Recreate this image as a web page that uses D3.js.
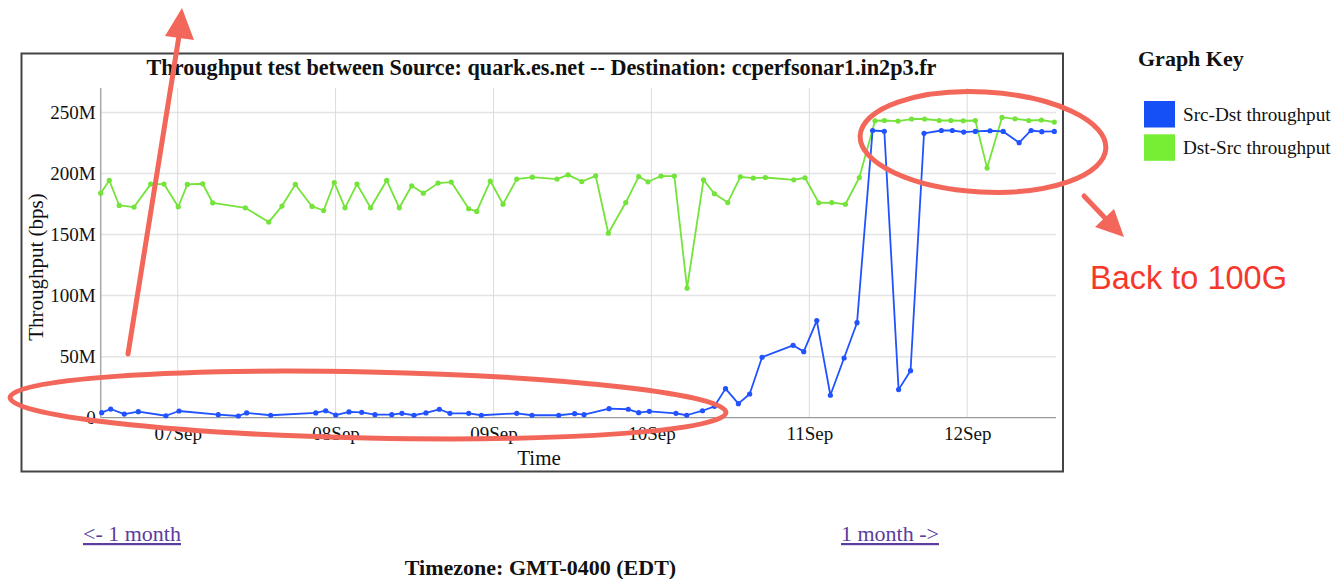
<!DOCTYPE html>
<html>
<head>
<meta charset="utf-8">
<script src="https://cdn.jsdelivr.net/npm/d3@7"></script>
<style>
  html, body { margin: 0; padding: 0; background: #fff; }
  svg { display: block; }
</style>
</head>
<body>
<svg id="chart" width="1341" height="579"></svg>
<script>
// ---------- DATA ----------
const chartTitle = "Throughput test between Source: quark.es.net -- Destination: ccperfsonar1.in2p3.fr";
const seriesNames = ["Src-Dst throughput", "Dst-Src throughput"];

// Src-Dst (blue) — times (month-day hour:min) and throughput in Mbps
const srcDstTimes = [
  "09-06 12:27","09-06 13:49","09-06 15:53","09-06 18:01","09-06 22:13","09-07 00:12","09-07 06:10","09-07 09:13",
  "09-07 10:29","09-07 14:08","09-07 20:59","09-07 22:30","09-08 00:01","09-08 02:02","09-08 03:58","09-08 05:59",
  "09-08 08:32","09-08 10:05","09-08 11:55","09-08 13:44","09-08 15:46","09-08 17:23","09-08 20:14","09-08 22:09",
  "09-09 03:32","09-09 05:51","09-09 09:55","09-09 12:20","09-09 13:46","09-09 17:34","09-09 20:29","09-09 22:04",
  "09-09 23:41","09-10 03:44","09-10 05:22","09-10 07:46","09-10 09:35","09-10 11:16","09-10 13:13","09-10 14:56",
  "09-10 16:49","09-10 21:32","09-10 23:09","09-11 01:08","09-11 03:12","09-11 05:17","09-11 07:15","09-11 09:37",
  "09-11 11:24","09-11 13:34","09-11 15:23","09-11 17:26","09-11 20:04","09-11 21:44","09-11 23:28","09-12 01:14",
  "09-12 03:28","09-12 05:28","09-12 07:53","09-12 09:42","09-12 11:20","09-12 13:14"
];
const srcDstValues = [
  4.1,7.1,3.0,4.9,1.6,5.5,2.5,1.4,
  3.9,2.0,3.9,5.7,2.2,4.7,4.4,2.5,
  2.5,3.6,2.0,3.9,6.9,3.6,3.6,2.0,
  3.6,2.0,2.0,3.3,2.5,7.4,6.9,4.1,
  5.2,3.6,2.0,5.7,9.3,23.8,11.5,19.4,
  49.5,59.3,54.1,79.5,18.4,48.9,77.8,235.2,
  234.6,23.0,38.5,232.9,235.2,235.2,233.9,234.4,
  235.0,234.4,225.2,235.2,234.2,234.4
];

// Dst-Src (green)
const dstSrcTimes = [
  "09-06 12:18","09-06 13:36","09-06 15:07","09-06 17:22","09-06 19:54","09-06 21:55","09-07 00:05","09-07 01:28",
  "09-07 03:48","09-07 05:19","09-07 10:17","09-07 13:50","09-07 15:51","09-07 17:53","09-07 20:25","09-07 22:11",
  "09-07 23:48","09-08 01:26","09-08 03:15","09-08 05:19","09-08 07:46","09-08 09:41","09-08 11:34","09-08 13:20",
  "09-08 15:34","09-08 17:35","09-08 20:14","09-08 21:27","09-08 23:31","09-09 01:27","09-09 03:32","09-09 05:54",
  "09-09 09:39","09-09 11:20","09-09 13:25","09-09 15:32","09-09 17:27","09-09 20:06","09-09 22:04","09-09 23:29",
  "09-10 01:28","09-10 03:29","09-10 05:25","09-10 07:55","09-10 09:35","09-10 11:36","09-10 13:31","09-10 15:29",
  "09-10 17:19","09-10 21:38","09-10 23:21","09-11 01:26","09-11 03:25","09-11 05:29","09-11 07:36","09-11 09:59",
  "09-11 11:24","09-11 13:29","09-11 15:32","09-11 17:31","09-11 19:45","09-11 21:31","09-11 23:24","09-12 01:14",
  "09-12 03:01","09-12 05:17","09-12 07:16","09-12 09:21","09-12 11:16","09-12 13:14"
];
const dstSrcValues = [
  183.9,194.3,173.8,172.5,191.3,191.3,172.7,191.0,
  191.6,176.0,171.9,160.2,173.3,191.0,173.0,169.7,
  192.6,171.9,191.3,171.9,194.3,171.9,189.9,183.9,
  192.1,193.0,171.1,168.9,193.8,174.9,195.4,197.0,
  195.4,198.9,193.4,198.1,151.1,176.2,197.5,193.2,
  197.9,197.9,106.1,194.8,183.4,176.2,197.3,196.2,
  196.7,194.8,196.5,176.0,176.2,174.8,196.7,243.2,
  243.4,242.9,244.6,244.6,243.4,243.4,243.2,243.4,
  204.4,245.9,244.8,243.4,243.8,242.1
];

const yTickValues = [0, 50, 100, 150, 200, 250];
const yTickLabels = ["0", "50M", "100M", "150M", "200M", "250M"];
const xTickDays = ["09-07 00:00","09-08 00:00","09-09 00:00","09-10 00:00","09-11 00:00","09-12 00:00"];
const yMax = 270;

// ---------- LAYOUT ----------
const parse = d3.utcParse("%m-%d %H:%M");
const L = 100.7, R = 1054.3, GR = 1056, T = 88, B = 417.7;
const serif = "'Liberation Serif', 'Times New Roman', Times, serif";
const sans = "'Liberation Sans', Arial, Helvetica, sans-serif";
const blue = "#2152ff", green = "#74e33a";
const annot = "#f2675a";

const svg = d3.select("#chart");
svg.append("rect").attr("width", 1341).attr("height", 579).attr("fill", "#fff");

const blueData = srcDstTimes.map((t, i) => ({ t: parse(t), v: srcDstValues[i] }));
const greenData = dstSrcTimes.map((t, i) => ({ t: parse(t), v: dstSrcValues[i] }));
const allT = blueData.concat(greenData).map(d => d.t);

const x = d3.scaleUtc().domain(d3.extent(allT)).range([L, R]);
const y = d3.scaleLinear().domain([0, yMax]).range([B, T]);

// outer frame
svg.append("rect").attr("x", 21.5).attr("y", 53.5).attr("width", 1041.5).attr("height", 418)
  .attr("fill", "none").attr("stroke", "#444").attr("stroke-width", 2);

// title
svg.append("text").attr("x", 541.5).attr("y", 75).attr("text-anchor", "middle")
  .attr("font-family", serif).attr("font-weight", "bold").attr("font-size", 22.2)
  .attr("fill", "#111").text(chartTitle);

// horizontal grid
svg.append("g").selectAll("line").data(yTickValues.filter(v => v > 0)).join("line")
  .attr("x1", L).attr("x2", GR).attr("y1", d => y(d)).attr("y2", d => y(d))
  .attr("stroke", "#e4e4e4").attr("stroke-width", 1.5);

// vertical grid
const xTicks = xTickDays.map(parse);
svg.append("g").selectAll("line").data(xTicks).join("line")
  .attr("x1", d => x(d)).attr("x2", d => x(d)).attr("y1", T).attr("y2", B)
  .attr("stroke", "#dcdcdc").attr("stroke-width", 1);

// axes
const yAxis = d3.axisLeft(y).tickValues(yTickValues)
  .tickFormat((d, i) => yTickLabels[i]).tickSize(0).tickPadding(5);
const gy = svg.append("g").attr("transform", `translate(${L},0)`).call(yAxis);
gy.select(".domain").remove();
gy.selectAll("text").attr("font-family", serif).attr("font-size", 19).attr("fill", "#111");

const xAxis = d3.axisBottom(x).tickValues(xTicks).tickFormat(d3.utcFormat("%d%b")).tickSize(0).tickPadding(9);
const gx = svg.append("g").attr("transform", `translate(0,${B})`).call(xAxis);
gx.select(".domain").remove();
gx.selectAll("text").attr("font-family", serif).attr("font-size", 19).attr("fill", "#111");

svg.append("line").attr("x1", L).attr("x2", L).attr("y1", T).attr("y2", B)
  .attr("stroke", "#a8a8a8").attr("stroke-width", 1.5);
svg.append("line").attr("x1", L).attr("x2", GR).attr("y1", B).attr("y2", B)
  .attr("stroke", "#9a9a9a").attr("stroke-width", 1.2);

// axis titles
svg.append("text").attr("x", 539).attr("y", 465).attr("text-anchor", "middle")
  .attr("font-family", serif).attr("font-size", 21).attr("fill", "#111").text("Time");
svg.append("text").attr("transform", "translate(43,267) rotate(-90)").attr("text-anchor", "middle")
  .attr("font-family", serif).attr("font-size", 21).attr("fill", "#111").text("Throughput (bps)");

// series
const line = d3.line().x(d => x(d.t)).y(d => y(d.v));
function drawSeries(data, color) {
  const g = svg.append("g");
  g.append("path").datum(data).attr("d", line).attr("fill", "none")
    .attr("stroke", color).attr("stroke-width", 1.8).attr("stroke-linejoin", "round");
  g.selectAll("circle").data(data).join("circle")
    .attr("cx", d => x(d.t)).attr("cy", d => y(d.v)).attr("r", 2.6).attr("fill", color);
}
drawSeries(greenData, green);
drawSeries(blueData, blue);

// legend
svg.append("text").attr("x", 1138).attr("y", 66).attr("font-family", serif).attr("font-weight", "bold")
  .attr("font-size", 22).attr("fill", "#111").text("Graph Key");
const legendColors = [blue, green];
const lg = svg.append("g").selectAll("g").data(seriesNames).join("g")
  .attr("transform", (d, i) => `translate(1144,${101 + i * 33.3})`);
lg.append("rect").attr("width", 31).attr("height", 26.5).attr("fill", (d, i) => i === 0 ? "#1450f5" : "#77ee33");
lg.append("text").attr("x", 39).attr("y", 20).attr("font-family", serif).attr("font-size", 19.2)
  .attr("fill", "#111").text(d => d);

// links and timezone
svg.append("text").attr("x", 83).attr("y", 541).attr("font-family", serif).attr("font-size", 22)
  .attr("fill", "#5a3d9d").attr("text-decoration", "underline").text("<- 1 month");
svg.append("text").attr("x", 841).attr("y", 541).attr("font-family", serif).attr("font-size", 22)
  .attr("fill", "#5a3d9d").attr("text-decoration", "underline").text("1 month ->");
svg.append("text").attr("x", 540.5).attr("y", 575).attr("text-anchor", "middle").attr("font-family", serif)
  .attr("font-weight", "bold").attr("font-size", 22).attr("fill", "#111").text("Timezone: GMT-0400 (EDT)");

// annotations
const an = svg.append("g").attr("fill", "none").attr("stroke", annot).attr("stroke-width", 5);
an.append("ellipse").attr("cx", 368).attr("cy", 405).attr("rx", 358).attr("ry", 33)
  .attr("transform", "rotate(1.2,368,405)");
an.append("ellipse").attr("cx", 983).attr("cy", 142).attr("rx", 123).attr("ry", 50)
  .attr("transform", "rotate(3,983,142)");
an.append("line").attr("x1", 128).attr("y1", 354).attr("x2", 179).attr("y2", 36).attr("stroke-linecap", "round");
an.append("line").attr("x1", 1084).attr("y1", 196).attr("x2", 1106).attr("y2", 219).attr("stroke-linecap", "round");
svg.append("polygon").attr("points", "182,8 165,36 194,40").attr("fill", annot);
svg.append("polygon").attr("points", "1124,237 1095,227 1114,209").attr("fill", annot);
svg.append("text").attr("x", 1090).attr("y", 289).attr("font-family", sans).attr("font-size", 32.5)
  .attr("fill", "#f6372b").text("Back to 100G");
</script>
</body>
</html>
